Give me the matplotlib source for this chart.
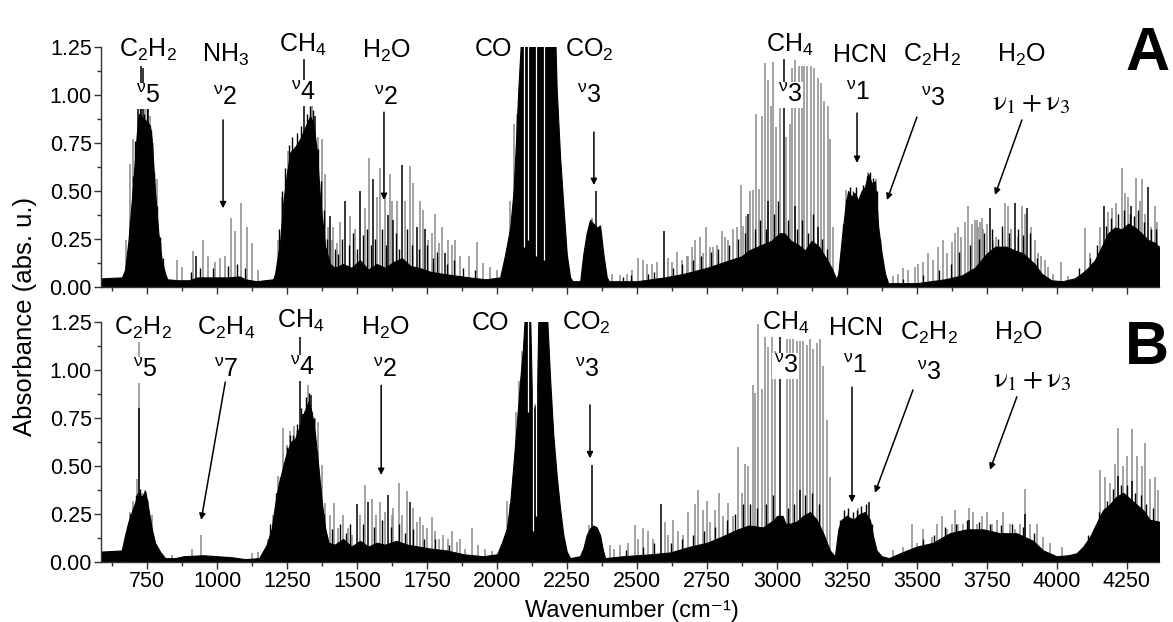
import numpy as np
import matplotlib.pyplot as plt

plt.rcParams['font.family'] = ['Liberation Sans', 'DejaVu Sans']
plt.rcParams['mathtext.fontset'] = 'custom'
plt.rcParams['mathtext.rm'] = 'Liberation Sans'
plt.rcParams['mathtext.it'] = 'Liberation Sans:italic'
plt.rcParams['mathtext.bf'] = 'Liberation Sans:bold'

# ---- panel A: dense black envelope (wavenumber, absorbance) ----
a_env_x = [585, 660, 671, 683, 695, 705, 713, 720, 735, 750, 760, 766, 778, 790, 802, 814, 822,
           860, 900, 930, 980, 1040, 1080, 1100, 1140, 1200, 1207, 1225, 1237, 1249, 1261, 1279,
           1296, 1314, 1332, 1344, 1356, 1368, 1386, 1403, 1420, 1450, 1480, 1510, 1540, 1570,
           1600, 1630, 1660, 1690, 1720, 1760, 1800, 1850, 1900, 1960, 2011, 2029, 2047, 2059,
           2068, 2076, 2086, 2208, 2213, 2225, 2237, 2249, 2261, 2270, 2297, 2308, 2320, 2332,
           2344, 2356, 2368, 2380, 2392, 2400, 2500, 2600, 2671, 2750, 2874, 2900, 2947, 2980,
           3010, 3026, 3050, 3075, 3100, 3124, 3150, 3171, 3195, 3212, 3219, 3231, 3243, 3254,
           3266, 3278, 3290, 3302, 3314, 3326, 3338, 3350, 3362, 3374, 3386, 3397, 3500, 3600,
           3660, 3707, 3750, 3780, 3820, 3850, 3880, 3920, 3945, 3980, 4020, 4064, 4088, 4112,
           4136, 4160, 4183, 4207, 4231, 4255, 4279, 4302, 4326, 4350, 4365]
a_env_y = [0.045, 0.05, 0.09, 0.24, 0.45, 0.64, 0.80, 0.90, 0.88, 0.86, 0.84, 0.77, 0.50, 0.28,
           0.14, 0.07, 0.04, 0.035, 0.035, 0.05, 0.05, 0.05, 0.055, 0.04, 0.03, 0.04, 0.07, 0.24,
           0.45, 0.59, 0.70, 0.73, 0.77, 0.83, 0.89, 0.85, 0.71, 0.45, 0.21, 0.12, 0.10, 0.12,
           0.10, 0.14, 0.09, 0.12, 0.10, 0.13, 0.15, 0.11, 0.10, 0.08, 0.07, 0.06, 0.05, 0.04,
           0.05, 0.17, 0.31, 0.50, 0.77, 1.03, 1.30, 1.30, 1.03, 0.68, 0.42, 0.17, 0.05, 0.03,
           0.03, 0.17, 0.28, 0.35, 0.33, 0.31, 0.32, 0.17, 0.05, 0.03, 0.03, 0.05, 0.07, 0.10,
           0.16, 0.19, 0.22, 0.24, 0.28, 0.28, 0.24, 0.22, 0.19, 0.24, 0.21, 0.16, 0.10, 0.04,
           0.07, 0.245, 0.40, 0.50, 0.47, 0.49, 0.45, 0.50, 0.52, 0.59, 0.54, 0.55, 0.31, 0.175,
           0.07, 0.02, 0.02, 0.04, 0.06, 0.10, 0.175, 0.21, 0.21, 0.19, 0.175, 0.12, 0.07, 0.035,
           0.03, 0.045, 0.07, 0.10, 0.14, 0.21, 0.28, 0.31, 0.30, 0.33, 0.31, 0.28, 0.245, 0.23,
           0.21]

# ---- panel A: single lines of the grey trace ----
a_gray_x = [674, 689, 698, 743, 760, 772, 784, 800, 856, 876, 915, 951, 969, 993, 1010, 1028,
            1050, 1064, 1085, 1106, 1123, 1145, 1216, 1231, 1252, 1266, 1278, 1290, 1302, 1326,
            1338, 1359, 1374, 1385, 1397, 1411, 1415, 1427, 1439, 1475, 1492, 1528, 1542, 1570,
            1582, 1600, 1626, 1618, 1644, 1672, 1689, 1701, 1725, 1737, 1755, 1767, 1779, 1791,
            1803, 1826, 1838, 1850, 1868, 1898, 1927, 1951, 1975, 1999, 2047, 2061, 2070, 2338,
            2410, 2439, 2463, 2481, 2505, 2523, 2535, 2552, 2570, 2612, 2624, 2642, 2660, 2677,
            2683, 2695, 2707, 2725, 2736, 2748, 2760, 2772, 2784, 2802, 2814, 2826, 2844, 2856,
            2871, 2879, 2891, 2903, 2915, 2925, 2935, 2947, 2957, 2969, 2978, 2987, 2998, 3010,
            3034, 3046, 3054, 3066, 3078, 3088, 3097, 3109, 3121, 3133, 3145, 3157, 3169, 3181,
            3189, 3201, 3248, 3266, 3326, 3355, 3415, 3433, 3451, 3469, 3493, 3505, 3522, 3540,
            3558, 3576, 3594, 3606, 3624, 3635, 3647, 3659, 3671, 3683, 3695, 3707, 3719, 3731,
            3713, 3725, 3737, 3749, 3772, 3784, 3796, 3814, 3826, 3836, 3862, 3874, 3886, 3909,
            3921, 3933, 3945, 3957, 3969, 3987, 4016, 4040, 4100, 4118, 4153, 4183, 4197, 4213,
            4231, 4243, 4255, 4284, 4296, 4305, 4314, 4338, 4350, 4359]
a_gray_y = [0.245, 0.64, 0.77, 0.96, 0.89, 0.75, 0.56, 0.23, 0.14, 0.105, 0.19, 0.245, 0.16, 0.13,
            0.15, 0.16, 0.36, 0.29, 0.44, 0.31, 0.23, 0.09, 0.245, 0.47, 0.71, 0.68, 0.73, 0.75,
            0.70, 0.85, 0.95, 0.78, 0.77, 0.59, 0.31, 0.245, 0.31, 0.23, 0.34, 0.37, 0.30, 0.41,
            0.67, 0.47, 0.62, 0.49, 0.45, 0.59, 0.45, 0.45, 0.63, 0.54, 0.45, 0.40, 0.245, 0.28,
            0.38, 0.23, 0.31, 0.245, 0.22, 0.245, 0.16, 0.16, 0.235, 0.125, 0.105, 0.09, 0.45,
            0.85, 0.90, 0.36, 0.07, 0.06, 0.07, 0.09, 0.15, 0.14, 0.12, 0.12, 0.13, 0.15, 0.13,
            0.18, 0.14, 0.16, 0.16, 0.21, 0.245, 0.26, 0.175, 0.31, 0.21, 0.21, 0.22, 0.29, 0.26,
            0.245, 0.30, 0.31, 0.53, 0.32, 0.37, 0.50, 0.505, 0.90, 0.51, 0.89, 1.165, 1.08, 0.94,
            1.17, 0.835, 1.06, 0.78, 0.85, 1.14, 1.18, 1.15, 1.15, 1.15, 1.15, 1.15, 1.14, 1.09,
            1.06, 0.97, 0.94, 0.77, 0.31, 0.505, 0.45, 0.60, 0.56, 0.055, 0.07, 0.10, 0.09, 0.105,
            0.12, 0.13, 0.175, 0.14, 0.21, 0.245, 0.175, 0.235, 0.28, 0.31, 0.26, 0.34, 0.42, 0.33,
            0.35, 0.31, 0.36, 0.35, 0.34, 0.30, 0.33, 0.245, 0.26, 0.21, 0.435, 0.42, 0.30, 0.26,
            0.42, 0.38, 0.31, 0.245, 0.175, 0.16, 0.14, 0.105, 0.07, 0.13, 0.055, 0.305, 0.175,
            0.31, 0.39, 0.41, 0.435, 0.62, 0.49, 0.47, 0.565, 0.45, 0.56, 0.38, 0.31, 0.42, 0.34]

# ---- panel A: single lines of the black trace ----
a_black_x = [716, 728, 735, 754, 925, 1310, 1350, 1403, 1457, 1510, 1558, 1612, 1630, 1660, 1713,
             1743, 1814, 2352, 2597, 2897, 2969, 3024, 3064, 3147, 3761, 3850, 3895, 4169, 4266,
             4326]
a_black_y = [0.965, 1.15, 1.14, 0.965, 0.16, 1.20, 0.89, 0.37, 0.45, 0.50, 0.56, 0.375, 0.35,
             0.635, 0.31, 0.30, 0.175, 0.50, 0.29, 0.38, 0.45, 1.20, 0.42, 0.31, 0.41, 0.435,
             0.41, 0.42, 0.42, 0.52]

# ---- panel A: shorter black lines along the band contours ----
a_dense_x = [690, 700, 708, 724, 740, 748, 764, 776, 786, 796, 806, 905, 940, 985, 1040, 1070,
             1100, 1222, 1232, 1244, 1256, 1268, 1284, 1300, 1322, 1330, 1344, 1362, 1372, 1380,
             1392, 1420, 1430, 1445, 1470, 1485, 1500, 1520, 1535, 1550, 1565, 1590, 1605, 1640,
             1650, 1680, 1695, 1720, 1750, 1770, 1785, 1820, 1845, 1880, 1920, 2450, 2480, 2540,
             2560, 2630, 2660, 2700, 2730, 2765, 2790, 2830, 2860, 2885, 2920, 2940, 2960, 2990,
             3005, 3040, 3072, 3090, 3110, 3130, 3160, 3180, 3236, 3248, 3260, 3272, 3284, 3296,
             3308, 3320, 3332, 3344, 3356, 3368, 3450, 3520, 3580, 3620, 3650, 3690, 3720, 3740,
             3770, 3790, 3805, 3830, 3860, 3880, 3905, 3930, 4080, 4120, 4145, 4175, 4195, 4220,
             4240, 4260, 4275, 4290, 4310, 4335, 4355]
a_dense_y = [0.35, 0.58, 0.76, 0.93, 0.90, 0.93, 0.82, 0.60, 0.42, 0.26, 0.15, 0.08, 0.10, 0.10,
             0.11, 0.12, 0.10, 0.30, 0.50, 0.62, 0.74, 0.78, 0.80, 0.84, 0.90, 0.94, 0.92, 0.72,
             0.55, 0.40, 0.25, 0.20, 0.17, 0.25, 0.22, 0.28, 0.20, 0.27, 0.30, 0.22, 0.25, 0.30,
             0.22, 0.28, 0.20, 0.30, 0.22, 0.20, 0.22, 0.15, 0.18, 0.12, 0.14, 0.10, 0.09, 0.05,
             0.06, 0.07, 0.08, 0.10, 0.12, 0.14, 0.16, 0.18, 0.20, 0.22, 0.25, 0.28, 0.30, 0.35,
             0.30, 0.38, 0.45, 0.35, 0.30, 0.35, 0.28, 0.38, 0.25, 0.20, 0.33, 0.46, 0.52, 0.50,
             0.52, 0.48, 0.53, 0.58, 0.60, 0.57, 0.50, 0.25, 0.04, 0.06, 0.09, 0.12, 0.18, 0.22,
             0.25, 0.28, 0.30, 0.25, 0.32, 0.28, 0.30, 0.27, 0.28, 0.15, 0.10, 0.15, 0.22, 0.32,
             0.36, 0.38, 0.40, 0.38, 0.37, 0.40, 0.34, 0.30, 0.30]

# ---- panel A: white gaps inside the saturated CO band ----
a_gap_x = [2096, 2110, 2138, 2166]
a_gap_y = [0.21, 0.245, 0.16, 0.14]

# ---- panel B: dense black envelope ----
b_env_x = [585, 659, 671, 683, 695, 707, 716, 731, 743, 754, 766, 778, 796, 814, 850, 880, 950,
           1000, 1050, 1100, 1150, 1177, 1195, 1207, 1219, 1231, 1243, 1254, 1266, 1278, 1293,
           1308, 1326, 1338, 1350, 1362, 1374, 1386, 1398, 1420, 1450, 1480, 1510, 1540, 1570,
           1600, 1640, 1680, 1720, 1760, 1820, 1880, 1950, 2000, 2017, 2035, 2047, 2058, 2070,
           2082, 2092, 2100, 2118, 2124, 2132, 2142, 2148, 2178, 2190, 2201, 2213, 2225, 2237,
           2249, 2261, 2296, 2308, 2320, 2332, 2344, 2356, 2368, 2377, 2386, 2450, 2550, 2620,
           2690, 2750, 2800, 2860, 2900, 2950, 2990, 3000, 3020, 3030, 3050, 3070, 3094, 3118,
           3142, 3165, 3189, 3207, 3219, 3231, 3249, 3273, 3296, 3314, 3332, 3344, 3356, 3374,
           3400, 3439, 3499, 3558, 3618, 3677, 3737, 3796, 3856, 3915, 3951, 3999, 4040, 4070,
           4094, 4118, 4141, 4165, 4189, 4213, 4237, 4261, 4284, 4308, 4332, 4365]
b_env_y = [0.054, 0.06, 0.14, 0.21, 0.26, 0.31, 0.36, 0.34, 0.37, 0.28, 0.175, 0.10, 0.054, 0.02,
           0.02, 0.03, 0.035, 0.03, 0.025, 0.015, 0.02, 0.09, 0.175, 0.30, 0.40, 0.47, 0.54, 0.59,
           0.63, 0.64, 0.70, 0.77, 0.835, 0.78, 0.66, 0.49, 0.31, 0.175, 0.10, 0.09, 0.12, 0.08,
           0.11, 0.08, 0.10, 0.09, 0.11, 0.09, 0.08, 0.07, 0.06, 0.04, 0.03, 0.04, 0.10, 0.175,
           0.31, 0.50, 0.71, 0.94, 1.10, 1.30, 1.30, 0.90, 0.78, 0.85, 1.30, 1.30, 0.94, 0.66,
           0.45, 0.28, 0.14, 0.054, 0.02, 0.03, 0.07, 0.14, 0.175, 0.19, 0.18, 0.14, 0.07, 0.02,
           0.03, 0.04, 0.05, 0.08, 0.10, 0.13, 0.17, 0.19, 0.18, 0.22, 0.24, 0.24, 0.20, 0.20,
           0.21, 0.24, 0.26, 0.22, 0.15, 0.06, 0.03, 0.17, 0.22, 0.24, 0.22, 0.25, 0.26, 0.22,
           0.13, 0.06, 0.03, 0.02, 0.045, 0.08, 0.10, 0.15, 0.17, 0.17, 0.15, 0.15, 0.11, 0.06,
           0.03, 0.035, 0.045, 0.08, 0.13, 0.20, 0.27, 0.30, 0.34, 0.36, 0.33, 0.30, 0.27, 0.22,
           0.21]

# ---- panel B: grey trace lines ----
b_gray_x = [689, 701, 713, 719, 731, 743, 754, 766, 838, 909, 943, 1123, 1147, 1183, 1201, 1219,
            1237, 1249, 1260, 1276, 1284, 1323, 1350, 1362, 1373, 1385, 1403, 1419, 1433, 1451,
            1469, 1481, 1510, 1528, 1552, 1566, 1581, 1599, 1623, 1630, 1648, 1660, 1678, 1701,
            1713, 1725, 1737, 1749, 1767, 1779, 1791, 1808, 1826, 1838, 1856, 1868, 1886, 1910,
            1933, 1957, 1981, 2035, 2047, 2068, 2080, 2088, 2330, 2404, 2416, 2439, 2469, 2493,
            2505, 2523, 2541, 2558, 2600, 2612, 2627, 2648, 2665, 2683, 2707, 2719, 2737, 2749,
            2761, 2779, 2794, 2808, 2826, 2844, 2862, 2874, 2886, 2898, 2913, 2922, 2933, 2945,
            2957, 2969, 2981, 2993, 3035, 3047, 3059, 3071, 3082, 3094, 3106, 3118, 3130, 3142,
            3154, 3166, 3178, 3190, 3255, 3290, 3416, 3452, 3481, 3499, 3523, 3553, 3570, 3588,
            3606, 3624, 3636, 3648, 3666, 3687, 3701, 3713, 3731, 3749, 3767, 3785, 3808, 3832,
            3850, 3868, 3886, 3904, 3928, 3951, 3975, 4017, 4154, 4172, 4190, 4207, 4219, 4237,
            4249, 4267, 4285, 4303, 4314, 4332, 4350, 4362]
b_gray_y = [0.26, 0.32, 0.43, 1.15, 0.36, 0.375, 0.32, 0.245, 0.036, 0.07, 0.14, 0.045, 0.054,
            0.12, 0.245, 0.45, 0.70, 0.61, 0.68, 0.71, 0.68, 0.92, 0.75, 0.73, 0.505, 0.305, 0.245,
            0.305, 0.175, 0.245, 0.175, 0.14, 0.245, 0.40, 0.33, 0.245, 0.31, 0.26, 0.245, 0.28,
            0.41, 0.245, 0.37, 0.28, 0.21, 0.235, 0.19, 0.175, 0.235, 0.16, 0.12, 0.14, 0.12, 0.16,
            0.105, 0.12, 0.07, 0.175, 0.09, 0.07, 0.055, 0.32, 0.30, 0.78, 0.94, 1.10, 0.19, 0.09,
            0.07, 0.09, 0.10, 0.19, 0.12, 0.175, 0.16, 0.12, 0.21, 0.14, 0.22, 0.16, 0.14, 0.26,
            0.30, 0.375, 0.27, 0.32, 0.21, 0.27, 0.36, 0.24, 0.305, 0.24, 0.60, 0.36, 0.51, 0.50,
            0.92, 0.88, 1.24, 0.90, 1.19, 1.12, 1.21, 1.10, 1.16, 1.16, 1.16, 1.15, 1.15, 1.15,
            1.13, 1.16, 1.11, 1.14, 1.16, 1.02, 0.74, 0.445, 0.25, 0.28, 0.06, 0.08, 0.20, 0.10,
            0.17, 0.13, 0.20, 0.24, 0.17, 0.20, 0.27, 0.20, 0.20, 0.28, 0.26, 0.20, 0.24, 0.26,
            0.20, 0.22, 0.26, 0.20, 0.17, 0.20, 0.38, 0.20, 0.20, 0.13, 0.10, 0.08, 0.48, 0.44,
            0.41, 0.51, 0.70, 0.50, 0.55, 0.69, 0.55, 0.50, 0.62, 0.43, 0.44, 0.375]

# ---- panel B: black trace lines ----
b_black_x = [720, 1296, 1308, 1335, 1498, 1540, 1611, 1689, 2338, 2585, 3011, 3082, 3330, 3687,
             3886, 4219, 4267]
b_black_y = [0.80, 1.17, 0.77, 0.87, 0.30, 0.31, 0.35, 0.31, 0.505, 0.30, 1.20, 0.375, 0.31,
             0.22, 0.25, 0.45, 0.42]

# ---- panel B: shorter black lines along the band contours ----
b_dense_x = [690, 700, 710, 725, 738, 750, 760, 772, 1190, 1212, 1225, 1240, 1250, 1262, 1272,
             1285, 1300, 1318, 1328, 1345, 1356, 1368, 1380, 1410, 1440, 1460, 1475, 1520, 1560,
             1590, 1620, 1650, 1670, 1700, 1740, 1780, 1830, 2460, 2520, 2560, 2620, 2660, 2700,
             2740, 2780, 2820, 2850, 2880, 2905, 2930, 2960, 2985, 3040, 3060, 3100, 3125, 3150,
             3225, 3240, 3255, 3270, 3285, 3300, 3318, 3340, 3520, 3560, 3600, 3640, 3680, 3720,
             3760, 3800, 3840, 3880, 3920, 4110, 4150, 4180, 4200, 4230, 4250, 4280, 4300, 4320,
             4345]
b_dense_y = [0.25, 0.28, 0.35, 0.38, 0.36, 0.33, 0.22, 0.14, 0.20, 0.36, 0.44, 0.52, 0.60, 0.66,
             0.66, 0.72, 0.80, 0.86, 0.88, 0.75, 0.58, 0.40, 0.25, 0.17, 0.20, 0.15, 0.20, 0.20,
             0.18, 0.22, 0.18, 0.20, 0.15, 0.17, 0.12, 0.12, 0.09, 0.06, 0.08, 0.10, 0.10, 0.12,
             0.14, 0.16, 0.18, 0.22, 0.25, 0.30, 0.30, 0.28, 0.30, 0.35, 0.28, 0.30, 0.35, 0.36,
             0.30, 0.22, 0.27, 0.28, 0.26, 0.27, 0.29, 0.30, 0.20, 0.12, 0.14, 0.18, 0.20, 0.22,
             0.21, 0.20, 0.19, 0.20, 0.18, 0.15, 0.14, 0.26, 0.32, 0.38, 0.40, 0.40, 0.36, 0.35,
             0.30, 0.28]

# ---- panel B: white gaps in the CO band ----
b_gap_x = [2110, 2128, 2140]
b_gap_y = [0.78, 0.16, 0.24]

# ---- labels: (text, wavenumber, baseline) ----
a_species = [(r'C$_2$H$_2$', 752, 1.198), (r'NH$_3$', 1029, 1.172), (r'CH$_4$', 1307, 1.224),
             (r'H$_2$O', 1604, 1.193), ('CO', 1989, 1.203), (r'CO$_2$', 2329, 1.198),
             (r'CH$_4$', 3046, 1.224), ('HCN', 3296, 1.172), (r'C$_2$H$_2$', 3554, 1.172),
             (r'H$_2$O', 3875, 1.172)]
a_modes = [(r'$^{\mathrm{\nu}}$5', 755, 0.958), (r'$^{\mathrm{\nu}}$2', 1029, 0.948),
           (r'$^{\mathrm{\nu}}$4', 1307, 0.974), (r'$^{\mathrm{\nu}}$2', 1604, 0.948),
           (r'$^{\mathrm{\nu}}$3', 2328, 0.958), (r'$^{\mathrm{\nu}}$3', 3046, 0.964),
           (r'$^{\mathrm{\nu}}$1', 3289, 0.974), (r'$^{\mathrm{\nu}}$3', 3557, 0.943)]
a_combo = (3907, 0.922)
a_arrows = [((1021, 0.87), (1021, 0.41)), ((1596, 0.91), (1596, 0.453)),
            ((2346, 0.807), (2346, 0.531)), ((3286, 0.906), (3286, 0.646)),
            ((3500, 0.885), (3393, 0.453)), ((3875, 0.87), (3779, 0.479))]

b_species = [(r'C$_2$H$_2$', 736, 1.182), (r'C$_2$H$_4$', 1032, 1.182), (r'CH$_4$', 1300, 1.219),
             (r'H$_2$O', 1600, 1.182), ('CO', 1975, 1.208), (r'CO$_2$', 2318, 1.208),
             (r'CH$_4$', 3032, 1.208), ('HCN', 3282, 1.182), (r'C$_2$H$_2$', 3543, 1.156),
             (r'H$_2$O', 3864, 1.156)]
b_modes = [(r'$^{\mathrm{\nu}}$5', 743, 0.964), (r'$^{\mathrm{\nu}}$7', 1032, 0.964),
           (r'$^{\mathrm{\nu}}$4', 1304, 0.974), (r'$^{\mathrm{\nu}}$2', 1600, 0.964),
           (r'$^{\mathrm{\nu}}$3', 2321, 0.964), (r'$^{\mathrm{\nu}}$3', 3032, 0.984),
           (r'$^{\mathrm{\nu}}$1', 3279, 0.984), (r'$^{\mathrm{\nu}}$3', 3543, 0.948)]
b_combo = (3911, 0.911)
b_arrows = [((1029, 0.937), (943, 0.219)), ((1586, 0.92), (1586, 0.453)),
            ((2332, 0.818), (2332, 0.54)), ((3268, 0.91), (3268, 0.31)),
            ((3486, 0.896), (3350, 0.36)), ((3857, 0.86), (3761, 0.48))]

x_ticks = [750, 1000, 1250, 1500, 1750, 2000, 2250, 2500, 2750, 3000, 3250, 3500, 3750, 4000, 4250]
y_ticks = [0.00, 0.25, 0.50, 0.75, 1.00, 1.25]

GREY = '#8a8a8a'

fig = plt.figure(figsize=(11.73, 6.22), dpi=100)
ax_a = fig.add_axes([0.0861, 0.5386, 0.902, 0.3859])
ax_b = fig.add_axes([0.0861, 0.0965, 0.902, 0.3859])


def draw_panel(ax, env_x, env_y, gx, gy, bx, by, dx, dy, gapx, gapy,
               species, modes, combo, arrows):
    ax.vlines(gx, 0, gy, colors=GREY, linewidth=1.1, zorder=1)
    ax.fill_between(env_x, 0, env_y, color='black', linewidth=0.8, zorder=2)
    ax.vlines(gapx, gapy, 1.3, colors='white', linewidth=0.9, zorder=2.5)
    ax.vlines(dx, 0, dy, colors='black', linewidth=1.0, zorder=3)
    ax.vlines(bx, 0, by, colors='black', linewidth=1.1, zorder=3)

    box = dict(boxstyle='square,pad=0.05', facecolor='white', edgecolor='none')
    for s, x, y in species + modes:
        ax.text(x, y, s, ha='center', va='baseline', fontsize=18, bbox=box,
                zorder=5, clip_on=False)
    ax.text(combo[0], combo[1], r'$\mathrm{\nu}_1 + \mathrm{\nu}_3$', ha='center',
            va='baseline', fontsize=21, math_fontfamily='stix', bbox=box, zorder=5)
    for start, end in arrows:
        ax.annotate('', xy=end, xytext=start, zorder=6,
                    arrowprops=dict(arrowstyle='-|>', color='black', lw=1.1,
                                    mutation_scale=9, shrinkA=0, shrinkB=0))

    ax.set_xlim(585, 4365)
    ax.set_ylim(0, 1.25)
    ax.set_xticks(x_ticks)
    ax.set_xticks(np.arange(625, 4365, 250), minor=True)
    ax.set_yticks(y_ticks)
    ax.set_yticks(np.arange(0.125, 1.25, 0.25), minor=True)
    ax.set_yticklabels(['%.2f' % v for v in y_ticks])
    for side in ('top', 'right'):
        ax.spines[side].set_visible(False)
    for side in ('left', 'bottom'):
        ax.spines[side].set_linewidth(1.0)
        ax.spines[side].set_color('#333333')
    ax.tick_params(which='major', direction='out', length=5, width=1, labelsize=15.5,
                   pad=1.5, color='#333333')
    ax.tick_params(which='minor', direction='out', length=3, width=1, color='#333333')


draw_panel(ax_a, a_env_x, a_env_y, a_gray_x, a_gray_y, a_black_x, a_black_y,
           a_dense_x, a_dense_y, a_gap_x, a_gap_y, a_species, a_modes, a_combo, a_arrows)
draw_panel(ax_b, b_env_x, b_env_y, b_gray_x, b_gray_y, b_black_x, b_black_y,
           b_dense_x, b_dense_y, b_gap_x, b_gap_y, b_species, b_modes, b_combo, b_arrows)
ax_a.tick_params(labelbottom=False)

fig.text(0.997, 0.912, 'A', ha='right', va='center', fontsize=44, fontweight='bold')
fig.text(0.997, 0.44, 'B', ha='right', va='center', fontsize=44, fontweight='bold')
fig.text(0.0213, 0.492, 'Absorbance (abs. u.)', rotation=90, ha='center', va='center',
         fontsize=18.5)
fig.text(0.539, 0.0, 'Wavenumber (cm⁻¹)', ha='center', va='bottom', fontsize=17)

fig.savefig('out.png', dpi=100)
